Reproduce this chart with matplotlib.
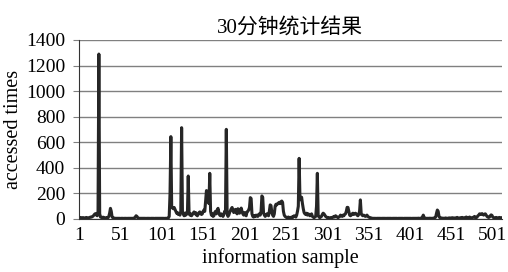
import matplotlib.pyplot as plt
import numpy as np

# accessed times per information sample
counts = [
    10, 12, 8, 10, 9, 11, 8, 7, 10, 12, 9, 8, 10, 12, 15, 14,
    18, 22, 30, 38, 42, 30, 25, 60, 1290, 40, 15, 12, 10, 14, 12, 10,
    8, 10, 12, 9, 20, 45, 83, 60, 15, 10, 8, 6, 5, 5, 5, 5,
    5, 5, 4, 5, 5, 5, 4, 5, 5, 5, 4, 5, 5, 5, 5, 5,
    5, 5, 6, 8, 15, 25, 20, 10, 6, 5, 5, 5, 5, 5, 5, 5,
    5, 4, 5, 5, 5, 5, 4, 5, 5, 5, 5, 4, 5, 5, 5, 5,
    5, 5, 5, 5, 5, 5, 5, 4, 5, 5, 5, 6, 8, 20, 200, 644,
    90, 85, 80, 90, 75, 60, 45, 50, 35, 40, 30, 60, 714, 60, 40, 25,
    45, 30, 50, 40, 336, 45, 30, 40, 25, 35, 45, 55, 40, 50, 30, 25,
    35, 50, 55, 45, 35, 40, 60, 70, 60, 140, 222, 215, 200, 120, 357, 60,
    30, 40, 20, 25, 50, 60, 40, 70, 83, 50, 30, 25, 40, 30, 20, 35,
    60, 50, 701, 40, 20, 30, 50, 65, 80, 90, 70, 50, 60, 75, 55, 40,
    80, 60, 45, 70, 85, 60, 40, 30, 50, 35, 25, 55, 60, 70, 90, 167,
    160, 40, 20, 15, 25, 20, 30, 25, 20, 35, 40, 30, 60, 180, 170, 45,
    30, 20, 30, 40, 35, 25, 60, 110, 105, 50, 30, 20, 40, 100, 115, 110,
    120, 125, 130, 120, 135, 140, 130, 60, 30, 20, 15, 10, 12, 15, 10, 8,
    12, 15, 10, 20, 25, 20, 15, 30, 60, 100, 474, 160, 150, 170, 120, 80,
    50, 40, 35, 45, 30, 40, 35, 25, 30, 40, 20, 15, 10, 15, 20, 100,
    357, 30, 15, 10, 15, 20, 35, 45, 40, 30, 20, 15, 10, 12, 10, 8,
    10, 12, 10, 15, 20, 15, 25, 20, 15, 10, 15, 20, 30, 25, 20, 30,
    25, 35, 40, 60, 91, 90, 60, 30, 25, 30, 40, 45, 35, 40, 45, 40,
    30, 25, 35, 60, 149, 40, 30, 25, 30, 25, 20, 25, 30, 20, 15, 12,
    10, 8, 6, 5, 5, 5, 5, 4, 5, 5, 5, 5, 5, 4, 5, 5,
    5, 5, 5, 4, 5, 5, 5, 5, 5, 5, 4, 5, 5, 5, 5, 5,
    5, 4, 5, 5, 5, 5, 5, 5, 4, 5, 5, 5, 5, 5, 5, 5,
    5, 5, 4, 5, 5, 5, 5, 5, 5, 5, 6, 5, 5, 6, 8, 15,
    30, 12, 6, 5, 5, 5, 5, 5, 6, 5, 5, 5, 6, 8, 10, 15,
    45, 70, 60, 20, 10, 8, 8, 6, 6, 5, 6, 8, 6, 5, 6, 8,
    8, 6, 8, 10, 8, 8, 6, 8, 10, 12, 8, 6, 8, 10, 8, 12,
    10, 8, 10, 12, 15, 10, 8, 12, 15, 10, 8, 10, 12, 15, 20, 12,
    10, 15, 25, 30, 40, 35, 38, 42, 35, 30, 38, 40, 30, 20, 15, 12,
    15, 25, 32, 28, 15, 10, 8, 10, 12, 10, 8, 10, 12, 10, 8, 10,
]
samples = np.arange(1, len(counts) + 1)
x_ticks = [1, 51, 101, 151, 201, 251, 301, 351, 401, 451, 501]
y_ticks = [0, 200, 400, 600, 800, 1000, 1200, 1400]

plt.rcParams['font.family'] = ['Liberation Serif', 'Noto Sans CJK SC']

fig = plt.figure(figsize=(5.08, 2.72), dpi=100)
ax = fig.add_axes([0.1555, 0.195, 0.8325, 0.658])

ax.plot(samples, counts, color='#262626', linewidth=2.2)

ax.set_xlim(1, 512)
ax.set_ylim(0, 1400)
ax.set_xticks(x_ticks)
ax.set_yticks(y_ticks)
ax.tick_params(axis='y', length=4, color='#808080', labelsize=14, pad=6)
ax.tick_params(axis='x', length=0, labelsize=14, pad=6)
ax.yaxis.grid(True, color='#808080', linewidth=1.0)
ax.set_axisbelow(True)
for s in ['top', 'right']:
    ax.spines[s].set_visible(False)
ax.spines['left'].set_color('#333333')
ax.spines['bottom'].set_color('#333333')

ax.set_title('30分钟统计结果', fontsize=15, pad=5)
ax.set_xlabel('information sample', fontsize=14.5)
ax.xaxis.set_label_coords(0.475, -0.165)
ax.set_ylabel('accessed times', fontsize=14.5, labelpad=2)

fig.savefig('out.png', dpi=100)
